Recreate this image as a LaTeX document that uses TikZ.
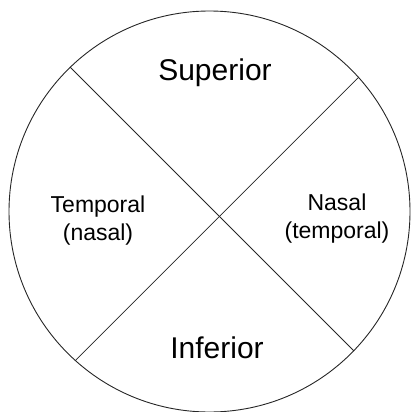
\documentclass[tikz,border=0pt]{standalone}
\usepackage{fontspec}
\setmainfont{Liberation Sans}
\usetikzlibrary{positioning}

\begin{document}
\begin{tikzpicture}[x=1pt, y=1pt,
    region/.style={align=center, font=\fontsize{23}{28}\selectfont},
    pole/.style={font=\fontsize{30}{34}\selectfont}]
    \useasboundingbox (0,0) rectangle (411,-412);

    % the visual field disc
    \node[circle, draw=black!85, line width=0.9pt, inner sep=0pt,
          minimum size=401pt] (eye) at (209.5,-211.5) {};

    % the two dividing lines
    \draw[black!85, line width=0.8pt] (eye.134) -- (eye.-44);
    \draw[black!85, line width=0.8pt] (eye.42) -- (eye.228);

    % quadrant labels
    \node[pole] (sup) at (215,-73) {Superior};
    \node[pole] (inf) at (217,-348) {Inferior};
    \node[region] (temp) at (98,-221) {Temporal\\(nasal)};
    \node[region] (nas) at (337,-219) {Nasal\\(temporal)};
\end{tikzpicture}
\end{document}
